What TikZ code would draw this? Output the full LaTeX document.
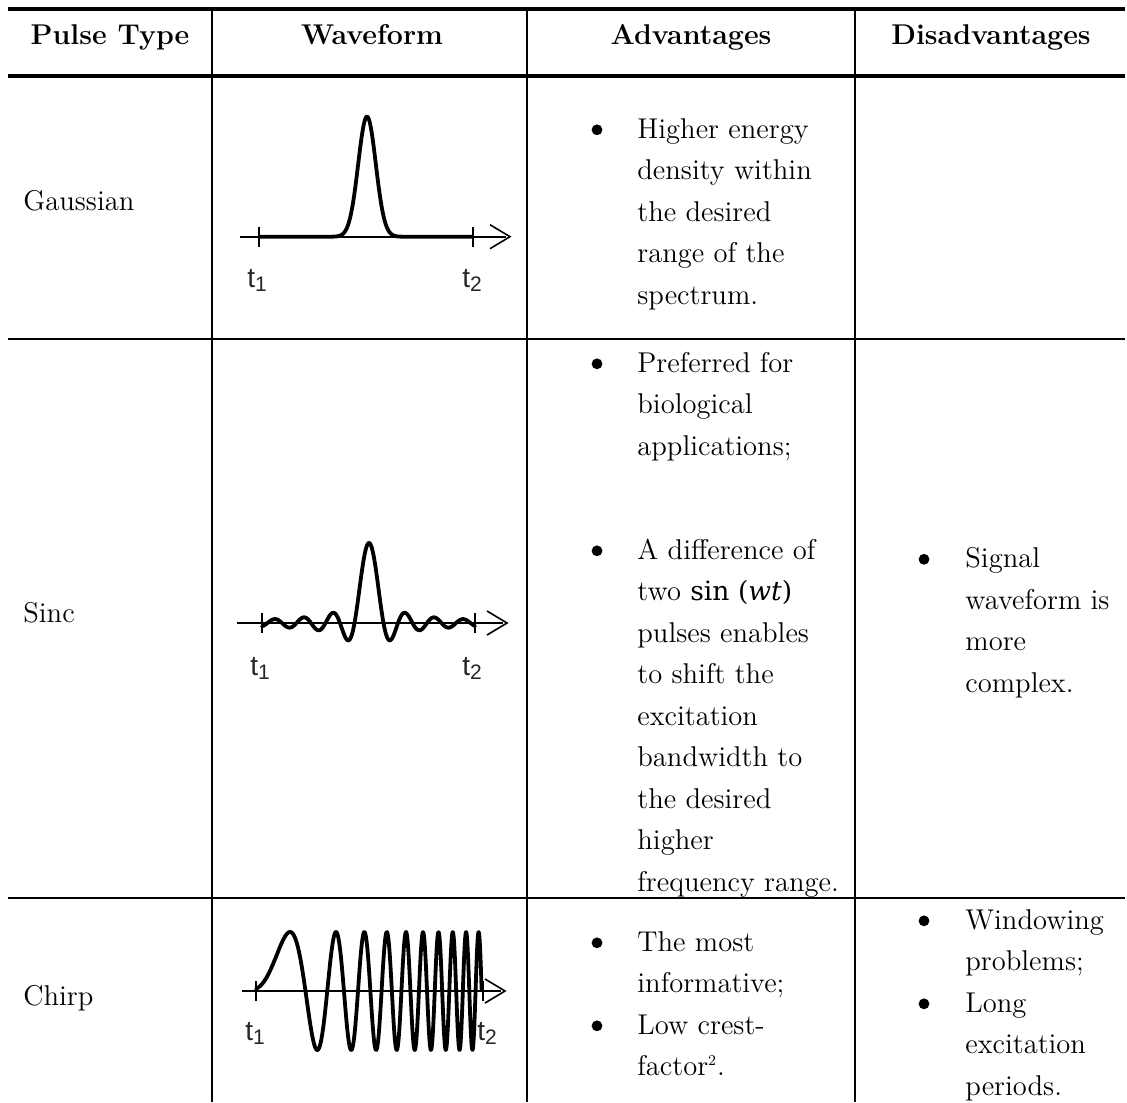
\documentclass[tikz,border=0pt]{standalone}
\usepackage{fontspec}
\newfontfamily\tfont{Liberation Sans}
\newfontfamily\mathlike{DejaVu Serif}
\begin{document}
\begin{tikzpicture}[x=0.5pt,y=-0.5pt]
\tikzset{
  txt/.style={anchor=base west, inner sep=0pt, font=\fontsize{14.3}{17}\selectfont},
  hdr/.style={anchor=base, inner sep=0pt, font=\fontsize{14.3}{17}\selectfont\bfseries},
  bul/.style={circle, fill=black, draw=none, inner sep=0pt, minimum size=5.4pt, yshift=4.1pt},
  tl/.style={anchor=base west, inner sep=0pt, font=\fontsize{14}{16}\tfont, text=black!85},
  thickrule/.style={line width=2.1pt},
  thinrule/.style={line width=1.3pt},
  wave/.style={line width=1.9pt, line join=round, line cap=round},
  axisline/.style={line width=0.8pt},
  chev/.style={line width=0.8pt, line join=miter}
}
\useasboundingbox (0,0) rectangle (1127,1102);

% ---------- table rules ----------
\draw[thickrule] (8,9) -- (1125,9);
\draw[thickrule] (8,76) -- (1125,76);
\draw[thinrule] (8,339) -- (1125,339);
\draw[thinrule] (8,898) -- (1125,898);
\foreach \cx in {212,527,855} \draw[thinrule] (\cx,9) -- (\cx,1102);

% ---------- header ----------
\node[hdr] (h1) at (110,45) {Pulse Type};
\node[hdr] (h2) at (372,45) {Waveform};
\node[hdr] (h3) at (691,45) {Advantages};
\node[hdr] (h4) at (991,45) {Disadvantages};

% ---------- first column ----------
\node[txt] (pg) at (23,210) {Gaussian};
\node[txt] (ps) at (23,622) {Sinc};
\node[txt] (pc) at (23,1005) {Chirp};

% ---------- Gaussian waveform ----------
\draw[axisline] (240,236.7) -- (506,236.7);
\draw[chev] (490,224.7) -- (510,236.7) -- (490,248.7);
\draw[axisline] (259,226.7) -- (259,246.7);
\draw[axisline] (473,226.7) -- (473,246.7);
\draw[wave] (259,236.7) -- (332,236.7)
  -- plot[domain=332:402,samples=160] (\x,{236.7-120*exp(-0.5*((\x-367)/8.8)*((\x-367)/8.8))})
  -- (473,236.7);
\node[tl] (g1) at (247,287) {t\raisebox{-0.3ex}{\fontsize{10.5}{12}\selectfont 1}};
\node[tl] (g2) at (462,287) {t\raisebox{-0.3ex}{\fontsize{10.5}{12}\selectfont 2}};

% ---------- Sinc waveform ----------
\draw[axisline] (237,623) -- (503,623);
\draw[chev] (487,611) -- (507,623) -- (487,635);
\draw[axisline] (262,613) -- (262,633);
\draw[axisline] (475,613) -- (475,633);
\draw[wave] plot[domain=262:368.5,samples=200] (\x,{623-80*sin(12.4138*(\x-369))/(0.216662*(\x-369))})
  -- (369,543)
  -- plot[domain=369.5:475,samples=200] (\x,{623-80*sin(12.4138*(\x-369))/(0.216662*(\x-369))});
\node[tl] (s1) at (250,675) {t\raisebox{-0.3ex}{\fontsize{10.5}{12}\selectfont 1}};
\node[tl] (s2) at (462,675) {t\raisebox{-0.3ex}{\fontsize{10.5}{12}\selectfont 2}};

% ---------- Chirp waveform ----------
\draw[axisline] (242,991) -- (501,991);
\draw[chev] (485,979) -- (505,991) -- (485,1003);
\draw[axisline] (256,981) -- (256,1001);
\draw[axisline] (483,981) -- (483,1001);
\draw[wave] plot[domain=256:481.6,samples=700]
  (\x,{991-59*sin(180*((0.019092*(\x-256))*(0.019092*(\x-256)) + 0.001926*(\x-256) + 0.013))});
\node[tl] (c1) at (245,1040) {t\raisebox{-0.3ex}{\fontsize{10.5}{12}\selectfont 1}};
\node[tl] (c2) at (477,1040) {t\raisebox{-0.3ex}{\fontsize{10.5}{12}\selectfont 2}};

% ---------- Advantages: Gaussian ----------
\node[bul] (gb1) at (597,138) {};
\foreach \t [count=\i] in {Higher energy, density within, the desired, range of the, spectrum.}
  \node[txt] (ga\i) at (637,{138+41.5*(\i-1)}) {\t};

% ---------- Advantages: Sinc ----------
\node[bul] (sb1) at (597,372) {};
\node[txt] (sa1) at (637,372) {Preferred for};
\node[txt] (sa2) at (637,413.5) {biological};
\node[txt] (sa3) at (637,455) {applications;};
\node[bul] (sb2) at (597,559) {};
\node[txt] (sa4) at (637,559) {A difference of};
\node[txt] (sa5) at (637,600.5) {two {\mathlike\fontsize{13.3}{17}\selectfont sin (\textit{wt})}};
\foreach \t [count=\i] in {pulses enables, to shift the, excitation, bandwidth to, the desired, higher, frequency range.}
  \node[txt] (sb\i x) at (637,{642+41.5*(\i-1)}) {\t};

% ---------- Disadvantages: Sinc ----------
\node[bul] (sdb) at (924,567.5) {};
\foreach \t [count=\i] in {Signal, waveform is, more, complex.}
  \node[txt] (sd\i) at (965,{567.5+41.5*(\i-1)}) {\t};

% ---------- Advantages: Chirp ----------
\node[bul] (cb1) at (597,951) {};
\node[txt] (ca1) at (637,951) {The most};
\node[txt] (ca2) at (637,992.5) {informative;};
\node[bul] (cb2) at (597,1034) {};
\node[txt] (ca3) at (637,1034) {Low crest-};
\node[txt] (ca4) at (637,1075.5) {factor\textsuperscript{\fontsize{7.5}{8}\selectfont 2}.};

% ---------- Disadvantages: Chirp ----------
\node[bul] (cdb1) at (924,929) {};
\node[txt] (cd1) at (965,929) {Windowing};
\node[txt] (cd2) at (965,970.5) {problems;};
\node[bul] (cdb2) at (924,1012) {};
\node[txt] (cd3) at (965,1012) {Long};
\node[txt] (cd4) at (965,1053.5) {excitation};
\node[txt] (cd5) at (965,1095) {periods.};
\end{tikzpicture}
\end{document}
